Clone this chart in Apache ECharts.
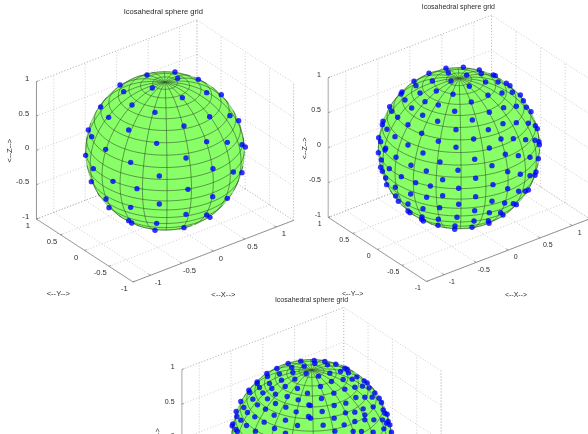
<!DOCTYPE html>
<html><head><meta charset="utf-8">
<style>html,body{margin:0;padding:0;background:#fff}#c{width:588px;height:434px}</style>
<script src="https://cdn.jsdelivr.net/npm/echarts@6/dist/echarts.min.js"></script>
</head><body><div id="c"></div>
<script>
// Dots: [right, up] from the sphere centre, in view units (sphere radius = about 240)
const dotsCoarse = [[-54,228],[30,237],[-135,198],[38,218],[100,215],[-124,178],[-38,189],[125,175],[169,169],[52,160],[-193,132],[-99,138],[-30,116],[-169,101],[134,103],[195,106],[221,91],[-109,63],[57,75],[-230,63],[-220,43],[-25,23],[125,28],[187,26],[231,19],[241,12],[-178,5],[-238,-13],[63,-21],[-103,-34],[-215,-53],[144,-53],[205,-63],[231,-65],[-17,-75],[-156,-91],[-221,-92],[-84,-113],[69,-115],[143,-137],[-177,-144],[187,-142],[-17,-159],[-168,-170],[-103,-169],[63,-190],[125,-192],[135,-199],[-109,-209],[-100,-216],[-25,-217],[57,-230],[-30,-238]];
const dotsMedium = [[-39,240],[-90,225],[-32,227],[-135,201],[-80,202],[-24,202],[-129,188],[-171,169],[-174,163],[-117,166],[-68,172],[-18,162],[-162,145],[-102,140],[-62,130],[-208,125],[-202,111],[-142,121],[-13,111],[-184,93],[-109,99],[-64,81],[-228,81],[-230,71],[-153,71],[-216,57],[-9,56],[-112,45],[-192,35],[-241,32],[-235,20],[-62,21],[-153,10],[-220,0],[-9,3],
[13,243],[61,235],[23,220],[67,224],[103,220],[109,218],[80,199],[117,199],[142,195],[153,188],[31,186],[160,168],[87,159],[129,166],[184,160],[193,143],[37,139],[172,126],[134,122],[202,123],[216,110],[91,108],[40,85],[172,77],[132,74],[208,75],[229,68],[235,59],[88,56],[44,28],[126,28],[163,29],[200,26],[228,24],[240,20],[241,11],[91,1],
[-222,-5],[-242,-13],[-108,-14],[-189,-27],[-233,-35],[-57,-41],[-144,-51],[-235,-57],[-209,-61],[-3,-66],[-98,-68],[-230,-69],[-173,-85],[-220,-89],[-49,-94],[-130,-103],[-217,-109],[-86,-113],[-191,-117],[-1,-120],[-145,-137],[-49,-142],[-190,-143],[-97,-147],[-182,-159],[-1,-168],[-153,-167],[-58,-178],[-108,-181],[-153,-188],[-147,-193],[-111,-206],[-6,-207],[-62,-213],[-112,-213],[-107,-218],[-63,-231],[-12,-233],[-13,-243],
[139,-18],[178,-22],[213,-27],[238,-31],[47,-33],[99,-52],[146,-70],[231,-71],[184,-78],[228,-81],[213,-82],[50,-90],[102,-109],[146,-121],[179,-129],[199,-129],[208,-125],[50,-145],[99,-159],[137,-164],[163,-166],[172,-169],[47,-187],[91,-193],[125,-193],[132,-200],[45,-218],[88,-218],[90,-225],[39,-237]];
const dotsFine = [[-32,235],[-70,228],[-22,220],[-104,213],[-59,216],[-134,198],[-132,189],[-96,197],[-56,201],[-16,198],[-163,173],[-163,168],[-126,168],[-90,178],[-50,181],[-188,148],[-185,141],[-156,156],[-119,153],[-79,159],[-42,153],[-146,140],[-108,136],[-73,129],[-12,139],[-212,114],[-203,96],[-176,121],[-132,122],[-40,119],[-162,104],[-108,108],[-77,97],[-8,104],[-226,84],[-224,69],[-192,81],[-138,91],[-46,83],[-170,68],[-112,73],[-78,58],[-9,69],[-212,58],[-236,47],[-238,41],[-142,52],[-195,42],[-42,42],[-111,33],[-227,30],[-223,24],[-168,25],[-78,19],
[8,237],[40,234],[10,228],[48,224],[73,226],[100,214],[107,211],[55,199],[87,204],[111,200],[136,188],[158,176],[167,170],[21,190],[60,174],[95,180],[122,181],[153,160],[173,155],[190,140],[203,124],[27,159],[67,139],[100,151],[130,157],[182,127],[210,111],[30,123],[133,126],[160,127],[103,109],[68,102],[-4,102],[155,92],[185,98],[220,79],[32,84],[102,80],[130,82],[160,74],[68,64],[-3,64],[187,59],[215,89],[227,76],[230,54],[225,49],[235,44],[35,43],[98,44],[130,54],[160,59],[213,59],[70,25],[125,24],[150,24],[185,22],[217,32],[240,22]];

const tickValues = [-1, -0.5, 0, 0.5, 1];
const tickLabels = ['-1', '-0.5', '0', '0.5', '1'];
const meshLongitudes = [-180,-162,-144,-126,-108,-90,-72,-54,-36,-18,0,18,36,54,72,90,108,126,144,162];
const meshLatitudes = [-81,-72,-63,-54,-45,-36,-27,-18,-9,0,9,18,27,36,45,54,63,72,81];
const titleText = 'Icosahedral sphere grid';
const axisNames = ['<--X-->', '<--Y-->', '<--Z-->'];

// Panel layout: sphere centre on the page (px), sphere radius in view units, label offsets
const panels = [
  {dots: dotsCoarse, cx: 165, cy: 151, R: 238, zw: 0.9, zc: '#8a8a8a', fs: 7.6, title: [-5,418], xName: [175,-431], yName: [-320,-428], zName: [-465,1]},
  {dots: dotsMedium, cx: 459, cy: 148.3, R: 242, zw: 1.5, zc: '#c4c4c4', fs: 7, title: [-2,423], xName: [171,-439], yName: [-319,-437], zName: [-461,0]},
  {dots: dotsFine, cx: 311.5, cy: 439.5, R: 240, zw: 1.2, zc: '#b4b4b4', fs: 7, title: [0,417], xName: [175,-431], yName: [-320,-428], zName: [-460,1]}
];
const XLIM = 1.275, PXU = 3;
const az = 37.5 * Math.PI / 180, el = 30 * Math.PI / 180;
const ca = Math.cos(az), sa = Math.sin(az), ce = Math.cos(el), se = Math.sin(el);
function proj(p, x, y, z) {
  return [p.R * (ca * x - sa * y), p.R * (se * (sa * x + ca * y) + ce * z)];
}
function depth(x, y, z) { return ce * (-sa * x - ca * y) + se * z; }

const series = [], grids = [], xAxes = [], yAxes = [];
panels.forEach((p, idx) => {
  grids.push({left: 0, top: 0, width: 588, height: 434});
  xAxes.push({type: 'value', gridIndex: idx, show: false, min: -p.cx * PXU, max: (588 - p.cx) * PXU});
  yAxes.push({type: 'value', gridIndex: idx, show: false, min: -(434 - p.cy) * PXU, max: p.cy * PXU});
  const seg = [];
  const L = XLIM;
  const add = (a, b, k) => seg.push({a, b, k});
  tickValues.forEach(t => {
    add([t, 1, -1], [t, 1, 1], 'g');
    add([-L, 1, t], [L, 1, t], 'g');
    add([L, t, -1], [L, t, 1], 'g');
    add([L, -1, t], [L, 1, t], 'g');
    add([t, -1, -1], [t, 1, -1], 'g');
    add([-L, t, -1], [L, t, -1], 'g');
  });
  add([L, 1, -1], [L, 1, 1], 'g');
  add([-L, 1, 1], [L, 1, 1], 'g');
  add([L, -1, -1], [L, -1, 1], 'g');
  add([L, 1, -1], [-L, 1, -1], 'g');
  add([L, 1, -1], [L, -1, -1], 'g');
  add([-L, 1, -1], [-L, 1, 1], 'z');
  add([-L, -1, -1], [-L, 1, -1], 'a');
  add([-L, -1, -1], [L, -1, -1], 'a');
  tickValues.forEach(t => {
    add([-L, 1, t], [-L + 0.03, 1, t], 'a');
    add([t, -1, -1], [t, -0.96, -1], 'a');
    add([-L, t, -1], [-L + 0.03, t, -1], 'a');
  });
  series.push({
    type: 'custom', xAxisIndex: idx, yAxisIndex: idx, silent: true, z: 2 + idx * 10,
    data: seg.map(() => [0, 0]),
    renderItem(params, api) {
      const s = seg[params.dataIndex];
      const a = api.coord(proj(p, ...s.a)), b = api.coord(proj(p, ...s.b));
      const style = s.k === 'g' ? {stroke: '#aaaaaa', lineWidth: 0.6, lineDash: [1, 2]}
        : s.k === 'z' ? {stroke: p.zc, lineWidth: p.zw} : {stroke: '#8a8a8a', lineWidth: 0.9};
      return {type: 'line', shape: {x1: a[0], y1: a[1], x2: b[0], y2: b[1]}, style};
    }
  });
  series.push({
    type: 'custom', xAxisIndex: idx, yAxisIndex: idx, silent: true, z: 3 + idx * 10,
    data: [[0, 0]],
    renderItem(params, api) {
      const c = api.coord([0, 0]);
      const r = api.size([p.R, 0])[0];
      return {type: 'circle', shape: {cx: c[0], cy: c[1], r}, style: {fill: '#88ff66', stroke: '#4c6c40', lineWidth: 0.4}};
    }
  });
  const mesh = meshLongitudes.map(v => ({lon: v})).concat(meshLatitudes.map(v => ({lat: v})));
  series.push({
    type: 'custom', xAxisIndex: idx, yAxisIndex: idx, silent: true, z: 4 + idx * 10,
    data: mesh.map(() => [0, 0]),
    renderItem(params, api) {
      const m = mesh[params.dataIndex];
      const runs = []; let cur = null;
      const n = m.lon !== undefined ? 90 : 180;
      for (let i = 0; i <= n; i++) {
        const lon = (m.lon !== undefined ? m.lon : -180 + 2 * i) * Math.PI / 180;
        const lat = (m.lat !== undefined ? m.lat : -90 + 2 * i) * Math.PI / 180;
        const x = Math.cos(lat) * Math.cos(lon), y = Math.cos(lat) * Math.sin(lon), z = Math.sin(lat);
        if (depth(x, y, z) >= 0) {
          if (!cur) { cur = []; runs.push(cur); }
          cur.push(api.coord(proj(p, x, y, z)));
        } else cur = null;
      }
      return {type: 'group', children: runs.map(points => ({
        type: 'polyline', shape: {points},
        style: {stroke: '#34552c', lineWidth: 0.6, fill: null}
      }))};
    }
  });
  series.push({
    type: 'scatter', xAxisIndex: idx, yAxisIndex: idx, silent: true, z: 5 + idx * 10,
    data: p.dots, symbol: 'circle', symbolSize: 5.4,
    itemStyle: {color: '#0000ff'}
  });
  const texts = [];
  const font = 'normal ' + p.fs + 'px "Liberation Sans", Arial, sans-serif';
  tickValues.forEach((t, i) => {
    const pz = proj(p, -L, 1, t);
    texts.push({s: tickLabels[i], pos: [pz[0] - 22, pz[1] + 7], align: 'right'});
    const py = proj(p, -L, t, -1);
    texts.push({s: tickLabels[i], pos: [py[0] - 26, py[1] - 21], align: 'center'});
    const px = proj(p, t, -1, -1);
    texts.push({s: tickLabels[i], pos: [px[0] + 23, px[1] - 22], align: 'center'});
  });
  texts.push({s: titleText, pos: p.title, align: 'center'});
  texts.push({s: axisNames[0], pos: p.xName, align: 'center'});
  texts.push({s: axisNames[1], pos: p.yName, align: 'center'});
  texts.push({s: axisNames[2], pos: p.zName, align: 'center', rot: Math.PI / 2});
  series.push({
    type: 'custom', xAxisIndex: idx, yAxisIndex: idx, silent: true, z: 6 + idx * 10,
    data: texts.map(() => [0, 0]),
    renderItem(params, api) {
      const t = texts[params.dataIndex];
      const c = api.coord(t.pos);
      return {type: 'text', x: c[0], y: c[1], rotation: t.rot || 0,
        style: {text: t.s, align: t.align, verticalAlign: 'middle', font, fill: '#2a2a2a'}};
    }
  });
});

const chart = echarts.init(document.getElementById('c'), null, {renderer: 'canvas', width: 588, height: 434});
chart.setOption({animation: false, backgroundColor: '#fff', tooltip: {show: false}, grid: grids, xAxis: xAxes, yAxis: yAxes, series});
</script></body></html>
